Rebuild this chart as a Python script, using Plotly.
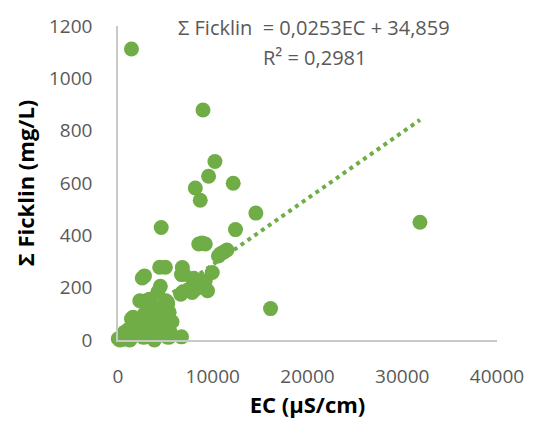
import plotly.graph_objects as go

# Electrical conductivity (µS/cm) and summed Ficklin metals (mg/L) per sample
ec = [
    1420, 8970, 10230, 9560, 8160, 8680, 12160, 4560, 12400, 14550,
    8520, 9210, 8870, 10600, 10850, 11150, 11500, 31870, 16100,
    4400, 5000, 6790, 2560, 2800, 4470, 6700, 6960, 8000, 8690, 9210, 9950,
    9450, 8180, 6790, 7830, 7300, 6620,
    2300, 2980, 3320, 3670, 5230, 5230, 5060, 4190,
    5060, 5400, 1590, 1420, 2800, 3320, 3500, 4190, 4540, 5230,
    2110, 2290, 2800, 3670, 4540,
    30, 200, 600, 1000, 1250, 1420, 1800, 2630, 2800, 3300, 3840, 4190,
    5060, 5230, 5400, 6700,
    700, 1100, 1600, 2000, 2500, 3000, 4000, 4800, 5700, 5500,
]
ficklin = [
    1112, 879, 682, 626, 581, 534, 599, 430, 422, 485,
    367, 367, 371, 321, 330, 336, 344, 450, 120,
    278, 278, 277, 237, 245, 205, 250, 251, 236, 226, 226, 258,
    188, 194, 182, 182, 190, 175,
    150, 150, 156, 131, 144, 137, 150, 182,
    112, 106, 87, 81, 100, 94, 75, 75, 87, 56,
    49, 62, 49, 49, 43,
    5, 0, 3, 8, 0, 11, 20, 11, 11, 25, 0, 24,
    24, 11, 11, 12,
    30, 40, 55, 30, 70, 35, 60, 90, 70, 30,
]

# Linear trendline coefficients and fit quality
slope = 0.0253
intercept = 34.859
r_squared = 0.2981

x_ticks = [0, 10000, 20000, 30000, 40000]
y_ticks = [0, 200, 400, 600, 800, 1000, 1200]

green = "#70AD47"
grey_text = "#595959"
axis_grey = "#C9C9C9"
font_family = "Open Sans"

x_fit = [min(ec), max(ec)]
y_fit = [slope * v + intercept for v in x_fit]

fig = go.Figure()
fig.add_trace(go.Scatter(
    x=x_fit, y=y_fit, mode="lines",
    line=dict(color=green, width=4, dash="4px,4.3px"),
    hoverinfo="skip", showlegend=False, cliponaxis=False,
))
fig.add_trace(go.Scatter(
    x=ec, y=ficklin, mode="markers",
    marker=dict(color=green, size=15, line=dict(width=0)),
    showlegend=False, cliponaxis=False,
))

# Trendline equation and R² label, one line each
eq_line = (f"Σ Ficklin  = {str(slope).replace('.', ',')}EC + "
           f"{str(intercept).replace('.', ',')}")
r2_line = f"R² = {str(r_squared).replace('.', ',')}"
for text, ypos in ((eq_line, 0.994), (r2_line, 0.899)):
    fig.add_annotation(
        text=text, xref="paper", yref="paper", x=0.518, y=ypos,
        xanchor="center", yanchor="middle", showarrow=False,
        font=dict(family=font_family, size=20, color=grey_text),
    )

fig.update_layout(
    width=536, height=426,
    margin=dict(l=118, r=33, t=26, b=83),
    paper_bgcolor="white", plot_bgcolor="white",
    font=dict(family=font_family, color=grey_text),
    xaxis=dict(
        range=[0, 40000], tickvals=x_ticks, ticktext=[str(v) for v in x_ticks],
        showgrid=False, zeroline=False, showline=True,
        linecolor=axis_grey, linewidth=1.5,
        ticks="outside", ticklen=18, tickcolor="rgba(0,0,0,0)",
        tickfont=dict(family=font_family, size=19, color=grey_text),
        title=dict(text="<b>EC (µS/cm)</b>", standoff=10,
                   font=dict(family=font_family, size=22, color="#000000")),
    ),
    yaxis=dict(
        range=[0, 1200], tickvals=y_ticks, ticktext=[str(v) for v in y_ticks],
        showgrid=False, zeroline=False, showline=True,
        linecolor=axis_grey, linewidth=1.5,
        ticks="outside", ticklen=20, tickcolor="rgba(0,0,0,0)",
        tickfont=dict(family=font_family, size=19, color=grey_text),
        title=dict(text="<b>Σ Ficklin (mg/L)</b>", standoff=8,
                   font=dict(family=font_family, size=22, color="#000000")),
    ),
)

fig.write_html("out.html")
